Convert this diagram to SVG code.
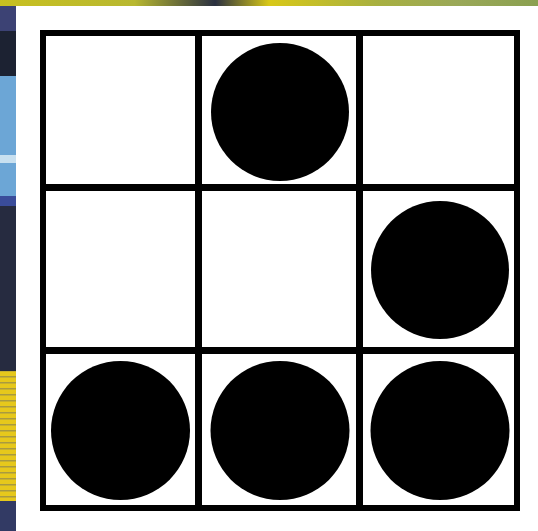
<svg xmlns="http://www.w3.org/2000/svg" width="538" height="531" viewBox="0 0 538 531">
  <defs>
    <linearGradient id="topg" x1="0" y1="0" x2="1" y2="0">
      <stop offset="0" stop-color="#c8c020"/>
      <stop offset="0.25" stop-color="#b8b830"/>
      <stop offset="0.4" stop-color="#2a3040"/>
      <stop offset="0.5" stop-color="#d8c818"/>
      <stop offset="0.7" stop-color="#a8b040"/>
      <stop offset="0.85" stop-color="#9aa858"/>
      <stop offset="1" stop-color="#8aa050"/>
    </linearGradient>
    <pattern id="yel" width="16" height="6" patternUnits="userSpaceOnUse">
      <rect width="16" height="6" fill="#e6c81c"/>
      <rect y="4" width="16" height="1.5" fill="#a89a40"/>
    </pattern>
  </defs>
  <style>
    .cell { fill: #ffffff; }
    .line { fill: #000000; }
    .dot { fill: #000000; }
  </style>
  <g id="background">
    <rect x="0" y="0" width="538" height="531" fill="#ffffff"/>
    <rect x="0" y="0" width="538" height="6" fill="url(#topg)"/>
    <rect x="0" y="6" width="16" height="25" fill="#3c4274"/>
    <rect x="0" y="31" width="16" height="45" fill="#1c2232"/>
    <rect x="0" y="76" width="16" height="124" fill="#6ca6d6"/>
    <rect x="0" y="155" width="16" height="8" fill="#c8e0f0"/>
    <rect x="0" y="196" width="16" height="10" fill="#3a4c9a"/>
    <rect x="0" y="206" width="16" height="165" fill="#262b40"/>
    <rect x="0" y="371" width="16" height="130" fill="url(#yel)"/>
    <rect x="0" y="501" width="16" height="30" fill="#323a64"/>
  </g>
  <g id="grid">
    <rect class="line" x="40" y="30" width="480" height="481"/>
  </g>
  <g id="cell-0-0"><rect class="cell" x="46" y="36" width="149" height="148"/></g>
  <g id="cell-0-1"><rect class="cell" x="202" y="36" width="154" height="148"/><circle class="dot" cx="280" cy="112" r="69"/></g>
  <g id="cell-0-2"><rect class="cell" x="363" y="36" width="151" height="148"/></g>
  <g id="cell-1-0"><rect class="cell" x="46" y="191" width="149" height="156"/></g>
  <g id="cell-1-1"><rect class="cell" x="202" y="191" width="154" height="156"/></g>
  <g id="cell-1-2"><rect class="cell" x="363" y="191" width="151" height="156"/><circle class="dot" cx="440" cy="270" r="69"/></g>
  <g id="cell-2-0"><rect class="cell" x="46" y="354" width="149" height="151"/><circle class="dot" cx="120.5" cy="430.5" r="69.5"/></g>
  <g id="cell-2-1"><rect class="cell" x="202" y="354" width="154" height="151"/><circle class="dot" cx="280" cy="430.5" r="69.5"/></g>
  <g id="cell-2-2"><rect class="cell" x="363" y="354" width="151" height="151"/><circle class="dot" cx="440" cy="430.5" r="69.5"/></g>
  <g id="connectors"></g>
</svg>
